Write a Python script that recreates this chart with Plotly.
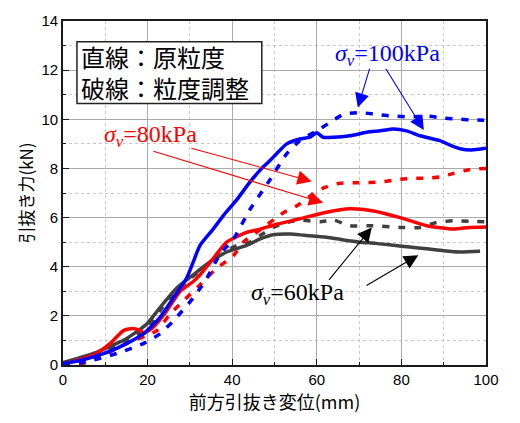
import plotly.graph_objects as go

# ---- data ----
b_orig_x = [0, 4, 7.2, 11, 15, 19, 22.9, 26.1, 29.2, 30.8, 32.4, 35.5, 38, 41.1, 44, 46.6, 48.2, 50.5, 52.9, 56, 58.4, 60, 61.5, 64, 67.8, 71.8, 75, 78.1, 81.2, 84.4, 89.1, 91.5, 93.9, 96.5, 100]
b_orig_y = [0.05, 0.18, 0.33, 0.55, 0.87, 1.27, 1.93, 2.73, 3.53, 4.2, 4.87, 5.53, 6.1, 6.73, 7.4, 7.93, 8.2, 8.6, 9.0, 9.2, 9.27, 9.45, 9.27, 9.27, 9.33, 9.47, 9.53, 9.6, 9.53, 9.33, 9.13, 8.95, 8.8, 8.75, 8.82]

b_adj_x = [0, 4, 7.2, 12.7, 19, 22.9, 26.1, 30.8, 34, 37.1, 40.3, 44.2, 48.9, 52.9, 56, 60, 63.1, 66.3, 70.2, 74, 78.1, 82, 86, 90, 93.9, 97, 100]
b_adj_y = [0.0, 0.08, 0.2, 0.47, 0.87, 1.27, 1.8, 2.73, 3.53, 4.5, 5.13, 6.33, 7.53, 8.6, 9.13, 9.53, 9.87, 10.2, 10.27, 10.2, 10.13, 10.1, 10.13, 10.05, 10.0, 9.97, 9.96]

r_orig_x = [0, 3, 7.2, 11.1, 14.3, 16.6, 18.2, 19, 21.3, 24.5, 27.7, 30.8, 32.4, 35.5, 38.7, 43.4, 46.6, 50.5, 56, 62.3, 67.8, 73.4, 79.7, 86, 92.3, 96, 100]
r_orig_y = [0.05, 0.18, 0.4, 0.87, 1.4, 1.49, 1.4, 1.29, 1.53, 2.2, 3.0, 3.4, 3.67, 4.33, 5.0, 5.4, 5.53, 5.73, 5.95, 6.22, 6.36, 6.27, 6.0, 5.67, 5.53, 5.6, 5.62]

r_adj_x = [0, 4.8, 8.7, 15, 19.8, 22.2, 25.3, 28.4, 32.4, 36.3, 40.3, 42.6, 47, 52.1, 55.2, 58.4, 61.5, 65.5, 70, 75, 79.7, 82.8, 86, 89, 92.3, 96, 100]
r_adj_y = [0.0, 0.07, 0.33, 0.87, 1.2, 1.4, 2.07, 2.6, 3.27, 3.93, 4.45, 5.0, 5.55, 6.2, 6.47, 6.87, 7.2, 7.4, 7.42, 7.45, 7.56, 7.6, 7.6, 7.65, 7.8, 7.95, 8.0]

g_orig_x = [0, 3, 7.2, 11, 15, 19.8, 22.9, 26.9, 30.8, 34.8, 38.7, 43.4, 46.6, 49.7, 53.7, 57, 62.3, 66, 70.2, 74, 78.1, 82, 86, 90, 93.9, 98.6]
g_orig_y = [0.1, 0.25, 0.47, 0.75, 1.07, 1.67, 2.33, 3.13, 3.67, 4.2, 4.6, 4.87, 5.13, 5.3, 5.33, 5.28, 5.2, 5.1, 5.0, 4.95, 4.87, 4.8, 4.73, 4.65, 4.6, 4.63]

g_adj_x = [0, 3, 7.2, 15, 19.8, 22.9, 25.3, 29.2, 33.2, 37.1, 41.1, 44.2, 46.6, 49.7, 53, 56, 60.8, 63.9, 67.8, 72.6, 79.7, 84.4, 88.3, 92.3, 96, 100]
g_adj_y = [0.07, 0.18, 0.33, 1.0, 1.47, 2.2, 2.73, 3.4, 3.93, 4.47, 4.87, 5.0, 5.27, 5.6, 5.8, 5.9, 5.83, 5.9, 5.67, 5.67, 5.6, 5.6, 5.8, 5.87, 5.85, 5.83]

x_ticks = [0, 20, 40, 60, 80, 100]
y_ticks = [0, 2, 4, 6, 8, 10, 12, 14]

legend_lines = ["直線：原粒度", "破線：粒度調整"]

BLUE = "#0000ff"
RED = "#ff0000"
GRAY = "#404040"
DASH = "7px,9px"

fig = go.Figure()
series = [
    (g_orig_x, g_orig_y, GRAY, "solid"),
    (g_adj_x, g_adj_y, GRAY, DASH),
    (r_orig_x, r_orig_y, RED, "solid"),
    (r_adj_x, r_adj_y, RED, DASH),
    (b_adj_x, b_adj_y, BLUE, DASH),
    (b_orig_x, b_orig_y, BLUE, "solid"),
]
for xs, ys, c, d in series:
    fig.add_trace(go.Scatter(x=xs, y=ys, mode="lines",
                             line=dict(color=c, width=3.5, dash=d, shape="spline", smoothing=0.6),
                             showlegend=False, hoverinfo="skip"))

SERIF = "Liberation Serif"
ann = []
# legend box (frame as a paper-space rectangle, text as one two-line annotation)
fig.add_shape(type="rect", xref="paper", yref="paper", x0=0.033, x1=0.470, y0=0.760, y1=0.940,
              line=dict(color="#222222", width=1.5), fillcolor="white", layer="above")
ann.append(dict(x=0.041, y=0.852, xref="paper", yref="paper",
                xanchor="left", yanchor="middle", align="left",
                text="<br>".join(legend_lines), showarrow=False, borderpad=0,
                font=dict(family="Noto Sans CJK JP", size=24, color="black")))
# labels
ann.append(dict(x=76.6, y=12.6, text="<i>σ</i><sub><i>v</i></sub>=100kPa", showarrow=False,
                font=dict(family=SERIF, size=24, color=BLUE)))
ann.append(dict(x=20.8, y=9.32, text="<i>σ</i><sub><i>v</i></sub>=80kPa", showarrow=False,
                font=dict(family=SERIF, size=24, color=RED)))
ann.append(dict(x=55.4, y=2.88, text="<i>σ</i><sub><i>v</i></sub>=60kPa", showarrow=False,
                font=dict(family=SERIF, size=24, color="black")))
# arrows: (tail_x, tail_y, tip_x, tip_y, color)
arrows = [
    (72.6, 12.12, 69.7, 10.48, BLUE),
    (76.1, 12.12, 85.3, 9.56, BLUE),
    (30.0, 8.84, 58.8, 7.47, RED),
    (21.0, 8.72, 61.5, 6.6, RED),
    (62.6, 3.4, 73.0, 5.6, "black"),
    (71.4, 3.2, 84.0, 4.47, "black"),
]
for tx, ty, hx, hy, c in arrows:
    ann.append(dict(x=hx, y=hy, ax=tx, ay=ty, axref="x", ayref="y", xref="x", yref="y",
                    text="", showarrow=True, arrowhead=2, arrowsize=2.6, arrowwidth=1.1,
                    arrowcolor=c, standoff=0, startstandoff=0))

axis_common = dict(showline=True, linecolor="#1a1a1a", linewidth=1.8, mirror=True,
                   ticks="inside", ticklen=6, tickcolor="#1a1a1a", tickwidth=1.3,
                   showgrid=True, gridcolor="#aaaaaa", gridwidth=1.3, zeroline=False,
                   tickfont=dict(family="Liberation Sans", size=15, color="black"))

fig.update_layout(
    width=520, height=423,
    margin=dict(l=63, r=34, t=15, b=58),
    paper_bgcolor="white", plot_bgcolor="white",
    annotations=ann,
    xaxis=dict(range=[0, 100], tickvals=x_ticks, ticktext=[str(v) for v in x_ticks],
               minor=dict(dtick=10, tick0=0, ticks="inside", ticklen=3, tickcolor="#1a1a1a",
                          showgrid=True, gridcolor="#c8c8c8", griddash="dot", gridwidth=1),
               title=dict(text="前方引抜き変位(mm)", standoff=8,
                          font=dict(family="Noto Sans CJK JP", size=18, color="black")),
               **axis_common),
    yaxis=dict(range=[0, 14], tickvals=y_ticks, ticktext=[str(v) for v in y_ticks],
               minor=dict(dtick=1, tick0=0, ticks="inside", ticklen=3, tickcolor="#1a1a1a",
                          showgrid=True, gridcolor="#c8c8c8", griddash="dot", gridwidth=1),
               title=dict(text="引抜き力(kN)", standoff=3,
                          font=dict(family="Noto Sans CJK JP", size=17, color="black")),
               **axis_common),
)

fig.write_html("out.html")
